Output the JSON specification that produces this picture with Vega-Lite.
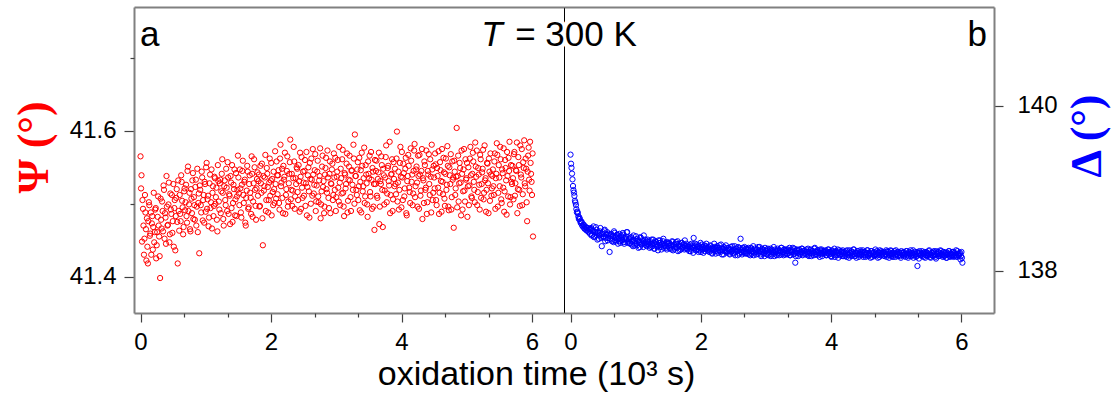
{
"$schema": "https://vega.github.io/schema/vega-lite/v6.json",
"autosize": {"type": "none"},
"padding": {"left": 134, "top": 7, "right": 978, "bottom": 400},
"background": "white",
"config": {
  "view": {"stroke": null},
  "font": "Liberation Sans",
  "axis": {"grid": false, "domainColor": "#808080", "domainWidth": 2, "tickColor": "#404040", "tickWidth": 1.2, "labelColor": "#000000", "labelFont": "Liberation Sans", "labelFontSize": 24, "labelOverlap": false, "labelFlush": false, "titleFontWeight": "normal", "titleColor": "#000000", "titleFont": "Liberation Sans"}
},
"datasets": {"obs": [
{"t":0,"p":41.565,"d":139.41},{"t":0.015,"p":41.539,"d":139.25},{"t":0.03,"p":41.505,"d":139.11},{"t":0.045,"p":41.470,"d":138.98},{"t":0.06,"p":41.452,"d":138.91},{"t":0.075,"p":41.488,"d":138.83},{"t":0.09,"p":41.422,"d":138.75},{"t":0.105,"p":41.441,"d":138.72},{"t":0.12,"p":41.476,"d":138.66},{"t":0.135,"p":41.498,"d":138.65},{"t":0.15,"p":41.459,"d":138.60},{"t":0.165,"p":41.430,"d":138.60},{"t":0.18,"p":41.483,"d":138.55},{"t":0.195,"p":41.468,"d":138.56},{"t":0.21,"p":41.447,"d":138.52},{"t":0.225,"p":41.492,"d":138.54},{"t":0.24,"p":41.425,"d":138.50},{"t":0.255,"p":41.461,"d":138.52},{"t":0.27,"p":41.510,"d":138.48},{"t":0.285,"p":41.455,"d":138.50},
{"t":0.3,"p":41.398,"d":138.45},{"t":0.315,"p":41.478,"d":138.52},{"t":0.33,"p":41.503,"d":138.44},{"t":0.345,"p":41.462,"d":138.49},{"t":0.36,"p":41.519,"d":138.41},{"t":0.375,"p":41.487,"d":138.47},{"t":0.39,"p":41.445,"d":138.53},{"t":0.405,"p":41.496,"d":138.43},{"t":0.42,"p":41.471,"d":138.46},{"t":0.435,"p":41.529,"d":138.39},{"t":0.45,"p":41.458,"d":138.48},{"t":0.465,"p":41.492,"d":138.44},{"t":0.48,"p":41.512,"d":138.30},{"t":0.495,"p":41.476,"d":138.47},{"t":0.51,"p":41.441,"d":138.42},{"t":0.525,"p":41.505,"d":138.50},{"t":0.54,"p":41.483,"d":138.40},{"t":0.555,"p":41.520,"d":138.44},{"t":0.57,"p":41.418,"d":138.37},{"t":0.585,"p":41.490,"d":138.45},
{"t":0.6,"p":41.512,"d":138.23},{"t":0.615,"p":41.476,"d":138.44},{"t":0.63,"p":41.530,"d":138.38},{"t":0.645,"p":41.495,"d":138.42},{"t":0.66,"p":41.468,"d":138.35},{"t":0.675,"p":41.521,"d":138.46},{"t":0.69,"p":41.502,"d":138.40},{"t":0.705,"p":41.483,"d":138.36},{"t":0.72,"p":41.545,"d":138.43},{"t":0.735,"p":41.490,"d":138.39},{"t":0.75,"p":41.515,"d":138.45},{"t":0.765,"p":41.462,"d":138.34},{"t":0.78,"p":41.507,"d":138.41},{"t":0.795,"p":41.532,"d":138.37},{"t":0.81,"p":41.479,"d":138.44},{"t":0.825,"p":41.498,"d":138.33},{"t":0.84,"p":41.523,"d":138.40},{"t":0.855,"p":41.470,"d":138.38},{"t":0.87,"p":41.548,"d":138.47},{"t":0.885,"p":41.501,"d":138.36},
{"t":0.9,"p":41.432,"d":138.39},{"t":0.915,"p":41.519,"d":138.33},{"t":0.93,"p":41.488,"d":138.41},{"t":0.945,"p":41.536,"d":138.36},{"t":0.96,"p":41.505,"d":138.30},{"t":0.975,"p":41.474,"d":138.38},{"t":0.99,"p":41.527,"d":138.34},{"t":1.005,"p":41.550,"d":138.42},{"t":1.02,"p":41.493,"d":138.31},{"t":1.035,"p":41.511,"d":138.37},{"t":1.05,"p":41.481,"d":138.35},{"t":1.065,"p":41.540,"d":138.29},{"t":1.08,"p":41.502,"d":138.40},{"t":1.095,"p":41.466,"d":138.33},{"t":1.11,"p":41.524,"d":138.36},{"t":1.125,"p":41.497,"d":138.43},{"t":1.14,"p":41.535,"d":138.32},{"t":1.155,"p":41.509,"d":138.35},{"t":1.17,"p":41.478,"d":138.30},{"t":1.185,"p":41.553,"d":138.38},
{"t":1.2,"p":41.503,"d":138.35},{"t":1.215,"p":41.528,"d":138.28},{"t":1.23,"p":41.487,"d":138.33},{"t":1.245,"p":41.541,"d":138.38},{"t":1.26,"p":41.515,"d":138.30},{"t":1.275,"p":41.470,"d":138.34},{"t":1.29,"p":41.532,"d":138.27},{"t":1.305,"p":41.498,"d":138.36},{"t":1.32,"p":41.522,"d":138.32},{"t":1.335,"p":41.557,"d":138.29},{"t":1.35,"p":41.486,"d":138.37},{"t":1.365,"p":41.511,"d":138.31},{"t":1.38,"p":41.538,"d":138.34},{"t":1.395,"p":41.494,"d":138.26},{"t":1.41,"p":41.475,"d":138.33},{"t":1.425,"p":41.526,"d":138.39},{"t":1.44,"p":41.547,"d":138.30},{"t":1.455,"p":41.506,"d":138.32},{"t":1.47,"p":41.483,"d":138.28},{"t":1.485,"p":41.519,"d":138.35},
{"t":1.5,"p":41.536,"d":138.30},{"t":1.515,"p":41.498,"d":138.34},{"t":1.53,"p":41.521,"d":138.27},{"t":1.545,"p":41.481,"d":138.31},{"t":1.56,"p":41.545,"d":138.36},{"t":1.575,"p":41.512,"d":138.25},{"t":1.59,"p":41.530,"d":138.32},{"t":1.605,"p":41.474,"d":138.29},{"t":1.62,"p":41.508,"d":138.35},{"t":1.635,"p":41.552,"d":138.28},{"t":1.65,"p":41.493,"d":138.24},{"t":1.665,"p":41.527,"d":138.33},{"t":1.68,"p":41.515,"d":138.30},{"t":1.695,"p":41.486,"d":138.26},{"t":1.71,"p":41.541,"d":138.34},{"t":1.725,"p":41.503,"d":138.29},{"t":1.74,"p":41.561,"d":138.31},{"t":1.755,"p":41.519,"d":138.37},{"t":1.77,"p":41.478,"d":138.27},{"t":1.785,"p":41.534,"d":138.30},
{"t":1.8,"p":41.511,"d":138.26},{"t":1.815,"p":41.540,"d":138.31},{"t":1.83,"p":41.497,"d":138.29},{"t":1.845,"p":41.528,"d":138.24},{"t":1.86,"p":41.555,"d":138.33},{"t":1.875,"p":41.443,"d":138.28},{"t":1.89,"p":41.518,"d":138.40},{"t":1.905,"p":41.536,"d":138.30},{"t":1.92,"p":41.490,"d":138.25},{"t":1.935,"p":41.549,"d":138.32},{"t":1.95,"p":41.523,"d":138.27},{"t":1.965,"p":41.505,"d":138.23},{"t":1.98,"p":41.562,"d":138.30},{"t":1.995,"p":41.532,"d":138.34},{"t":2.01,"p":41.484,"d":138.26},{"t":2.025,"p":41.516,"d":138.29},{"t":2.04,"p":41.544,"d":138.22},{"t":2.055,"p":41.501,"d":138.31},{"t":2.07,"p":41.527,"d":138.27},{"t":2.085,"p":41.558,"d":138.33},
{"t":2.1,"p":41.513,"d":138.25},{"t":2.115,"p":41.546,"d":138.29},{"t":2.13,"p":41.492,"d":138.23},{"t":2.145,"p":41.581,"d":138.31},{"t":2.16,"p":41.529,"d":138.27},{"t":2.175,"p":41.508,"d":138.21},{"t":2.19,"p":41.552,"d":138.28},{"t":2.205,"p":41.537,"d":138.33},{"t":2.22,"p":41.486,"d":138.24},{"t":2.235,"p":41.520,"d":138.26},{"t":2.25,"p":41.565,"d":138.30},{"t":2.265,"p":41.503,"d":138.22},{"t":2.28,"p":41.541,"d":138.28},{"t":2.295,"p":41.588,"d":138.25},{"t":2.31,"p":41.519,"d":138.32},{"t":2.325,"p":41.497,"d":138.20},{"t":2.34,"p":41.535,"d":138.27},{"t":2.355,"p":41.558,"d":138.29},{"t":2.37,"p":41.510,"d":138.24},{"t":2.385,"p":41.527,"d":138.31},
{"t":2.4,"p":41.548,"d":138.22},{"t":2.415,"p":41.505,"d":138.27},{"t":2.43,"p":41.531,"d":138.25},{"t":2.445,"p":41.570,"d":138.20},{"t":2.46,"p":41.493,"d":138.29},{"t":2.475,"p":41.522,"d":138.24},{"t":2.49,"p":41.544,"d":138.26},{"t":2.505,"p":41.511,"d":138.21},{"t":2.52,"p":41.560,"d":138.30},{"t":2.535,"p":41.528,"d":138.23},{"t":2.55,"p":41.484,"d":138.27},{"t":2.565,"p":41.539,"d":138.19},{"t":2.58,"p":41.517,"d":138.25},{"t":2.595,"p":41.556,"d":138.28},{"t":2.61,"p":41.500,"d":138.39},{"t":2.625,"p":41.533,"d":138.22},{"t":2.64,"p":41.575,"d":138.26},{"t":2.655,"p":41.514,"d":138.23},{"t":2.67,"p":41.546,"d":138.29},{"t":2.685,"p":41.490,"d":138.21},
{"t":2.7,"p":41.525,"d":138.26},{"t":2.715,"p":41.559,"d":138.21},{"t":2.73,"p":41.502,"d":138.28},{"t":2.745,"p":41.538,"d":138.24},{"t":2.76,"p":41.480,"d":138.19},{"t":2.775,"p":41.517,"d":138.27},{"t":2.79,"p":41.566,"d":138.23},{"t":2.805,"p":41.531,"d":138.30},{"t":2.82,"p":41.496,"d":138.22},{"t":2.835,"p":41.549,"d":138.25},{"t":2.85,"p":41.520,"d":138.20},{"t":2.865,"p":41.573,"d":138.26},{"t":2.88,"p":41.508,"d":138.29},{"t":2.895,"p":41.541,"d":138.22},{"t":2.91,"p":41.487,"d":138.24},{"t":2.925,"p":41.527,"d":138.18},{"t":2.94,"p":41.555,"d":138.27},{"t":2.955,"p":41.512,"d":138.25},{"t":2.97,"p":41.536,"d":138.21},{"t":2.985,"p":41.563,"d":138.28},
{"t":3,"p":41.509,"d":138.24},{"t":3.015,"p":41.544,"d":138.20},{"t":3.03,"p":41.522,"d":138.27},{"t":3.045,"p":41.578,"d":138.22},{"t":3.06,"p":41.498,"d":138.25},{"t":3.075,"p":41.535,"d":138.18},{"t":3.09,"p":41.561,"d":138.26},{"t":3.105,"p":41.515,"d":138.23},{"t":3.12,"p":41.483,"d":138.29},{"t":3.135,"p":41.540,"d":138.21},{"t":3.15,"p":41.527,"d":138.24},{"t":3.165,"p":41.569,"d":138.19},{"t":3.18,"p":41.504,"d":138.27},{"t":3.195,"p":41.551,"d":138.22},{"t":3.21,"p":41.532,"d":138.25},{"t":3.225,"p":41.490,"d":138.20},{"t":3.24,"p":41.546,"d":138.28},{"t":3.255,"p":41.519,"d":138.23},{"t":3.27,"p":41.562,"d":138.19},{"t":3.285,"p":41.595,"d":138.26},
{"t":3.3,"p":41.538,"d":138.22},{"t":3.315,"p":41.512,"d":138.26},{"t":3.33,"p":41.557,"d":138.21},{"t":3.345,"p":41.524,"d":138.24},{"t":3.36,"p":41.491,"d":138.28},{"t":3.375,"p":41.546,"d":138.19},{"t":3.39,"p":41.570,"d":138.23},{"t":3.405,"p":41.517,"d":138.25},{"t":3.42,"p":41.535,"d":138.20},{"t":3.435,"p":41.501,"d":138.27},{"t":3.45,"p":41.553,"d":138.10},{"t":3.465,"p":41.528,"d":138.22},{"t":3.48,"p":41.482,"d":138.24},{"t":3.495,"p":41.541,"d":138.18},{"t":3.51,"p":41.566,"d":138.26},{"t":3.525,"p":41.510,"d":138.21},{"t":3.54,"p":41.533,"d":138.23},{"t":3.555,"p":41.549,"d":138.27},{"t":3.57,"p":41.496,"d":138.20},{"t":3.585,"p":41.464,"d":138.24},
{"t":3.6,"p":41.527,"d":138.25},{"t":3.615,"p":41.559,"d":138.20},{"t":3.63,"p":41.508,"d":138.23},{"t":3.645,"p":41.543,"d":138.27},{"t":3.66,"p":41.472,"d":138.18},{"t":3.675,"p":41.531,"d":138.22},{"t":3.69,"p":41.565,"d":138.26},{"t":3.705,"p":41.519,"d":138.21},{"t":3.72,"p":41.548,"d":138.24},{"t":3.735,"p":41.499,"d":138.19},{"t":3.75,"p":41.536,"d":138.28},{"t":3.765,"p":41.580,"d":138.23},{"t":3.78,"p":41.514,"d":138.20},{"t":3.795,"p":41.552,"d":138.25},{"t":3.81,"p":41.525,"d":138.22},{"t":3.825,"p":41.487,"d":138.17},{"t":3.84,"p":41.540,"d":138.24},{"t":3.855,"p":41.561,"d":138.26},{"t":3.87,"p":41.506,"d":138.21},{"t":3.885,"p":41.534,"d":138.23},
{"t":3.9,"p":41.548,"d":138.21},{"t":3.915,"p":41.513,"d":138.25},{"t":3.93,"p":41.599,"d":138.19},{"t":3.945,"p":41.529,"d":138.23},{"t":3.96,"p":41.492,"d":138.26},{"t":3.975,"p":41.556,"d":138.20},{"t":3.99,"p":41.537,"d":138.22},{"t":4.005,"p":41.571,"d":138.17},{"t":4.02,"p":41.505,"d":138.24},{"t":4.035,"p":41.542,"d":138.21},{"t":4.05,"p":41.521,"d":138.27},{"t":4.065,"p":41.563,"d":138.19},{"t":4.08,"p":41.484,"d":138.23},{"t":4.095,"p":41.538,"d":138.22},{"t":4.11,"p":41.552,"d":138.16},{"t":4.125,"p":41.516,"d":138.25},{"t":4.14,"p":41.576,"d":138.20},{"t":4.155,"p":41.530,"d":138.24},{"t":4.17,"p":41.498,"d":138.18},{"t":4.185,"p":41.545,"d":138.22},
{"t":4.2,"p":41.582,"d":138.23},{"t":4.215,"p":41.524,"d":138.18},{"t":4.23,"p":41.551,"d":138.21},{"t":4.245,"p":41.496,"d":138.25},{"t":4.26,"p":41.538,"d":138.20},{"t":4.275,"p":41.567,"d":138.16},{"t":4.29,"p":41.511,"d":138.22},{"t":4.305,"p":41.545,"d":138.24},{"t":4.32,"p":41.479,"d":138.19},{"t":4.335,"p":41.532,"d":138.21},{"t":4.35,"p":41.558,"d":138.26},{"t":4.365,"p":41.519,"d":138.18},{"t":4.38,"p":41.573,"d":138.22},{"t":4.395,"p":41.502,"d":138.20},{"t":4.41,"p":41.540,"d":138.24},{"t":4.425,"p":41.527,"d":138.17},{"t":4.44,"p":41.561,"d":138.21},{"t":4.455,"p":41.488,"d":138.23},{"t":4.47,"p":41.547,"d":138.19},{"t":4.485,"p":41.515,"d":138.25},
{"t":4.5,"p":41.536,"d":138.20},{"t":4.515,"p":41.569,"d":138.23},{"t":4.53,"p":41.505,"d":138.17},{"t":4.545,"p":41.549,"d":138.22},{"t":4.56,"p":41.522,"d":138.25},{"t":4.575,"p":41.486,"d":138.19},{"t":4.59,"p":41.557,"d":138.21},{"t":4.605,"p":41.531,"d":138.16},{"t":4.62,"p":41.575,"d":138.24},{"t":4.635,"p":41.513,"d":138.20},{"t":4.65,"p":41.543,"d":138.22},{"t":4.665,"p":41.497,"d":138.18},{"t":4.68,"p":41.562,"d":138.26},{"t":4.695,"p":41.526,"d":138.21},{"t":4.71,"p":41.552,"d":138.19},{"t":4.725,"p":41.491,"d":138.23},{"t":4.74,"p":41.539,"d":138.17},{"t":4.755,"p":41.568,"d":138.22},{"t":4.77,"p":41.509,"d":138.24},{"t":4.785,"p":41.533,"d":138.20},
{"t":4.8,"p":41.467,"d":138.22},{"t":4.815,"p":41.544,"d":138.18},{"t":4.83,"p":41.521,"d":138.21},{"t":4.845,"p":41.604,"d":138.25},{"t":4.86,"p":41.538,"d":138.19},{"t":4.875,"p":41.503,"d":138.23},{"t":4.89,"p":41.556,"d":138.16},{"t":4.905,"p":41.529,"d":138.21},{"t":4.92,"p":41.573,"d":138.24},{"t":4.935,"p":41.492,"d":138.20},{"t":4.95,"p":41.547,"d":138.17},{"t":4.965,"p":41.518,"d":138.22},{"t":4.98,"p":41.561,"d":138.19},{"t":4.995,"p":41.535,"d":138.25},{"t":5.01,"p":41.482,"d":138.21},{"t":5.025,"p":41.550,"d":138.18},{"t":5.04,"p":41.525,"d":138.23},{"t":5.055,"p":41.578,"d":138.20},{"t":5.07,"p":41.510,"d":138.16},{"t":5.085,"p":41.541,"d":138.22},
{"t":5.1,"p":41.558,"d":138.19},{"t":5.115,"p":41.519,"d":138.23},{"t":5.13,"p":41.584,"d":138.20},{"t":5.145,"p":41.537,"d":138.17},{"t":5.16,"p":41.498,"d":138.24},{"t":5.175,"p":41.549,"d":138.21},{"t":5.19,"p":41.526,"d":138.18},{"t":5.205,"p":41.567,"d":138.22},{"t":5.22,"p":41.508,"d":138.25},{"t":5.235,"p":41.543,"d":138.19},{"t":5.25,"p":41.574,"d":138.21},{"t":5.265,"p":41.515,"d":138.16},{"t":5.28,"p":41.532,"d":138.23},{"t":5.295,"p":41.489,"d":138.20},{"t":5.31,"p":41.556,"d":138.18},{"t":5.325,"p":41.528,"d":138.06},{"t":5.34,"p":41.562,"d":138.22},{"t":5.355,"p":41.504,"d":138.24},{"t":5.37,"p":41.540,"d":138.19},{"t":5.385,"p":41.521,"d":138.21},
{"t":5.4,"p":41.547,"d":138.18},{"t":5.415,"p":41.512,"d":138.22},{"t":5.43,"p":41.569,"d":138.20},{"t":5.445,"p":41.535,"d":138.16},{"t":5.46,"p":41.583,"d":138.23},{"t":5.475,"p":41.496,"d":138.19},{"t":5.49,"p":41.553,"d":138.21},{"t":5.505,"p":41.524,"d":138.25},{"t":5.52,"p":41.561,"d":138.17},{"t":5.535,"p":41.501,"d":138.20},{"t":5.55,"p":41.542,"d":138.22},{"t":5.565,"p":41.576,"d":138.18},{"t":5.58,"p":41.517,"d":138.24},{"t":5.595,"p":41.549,"d":138.19},{"t":5.61,"p":41.485,"d":138.15},{"t":5.625,"p":41.538,"d":138.21},{"t":5.64,"p":41.563,"d":138.23},{"t":5.655,"p":41.585,"d":138.18},{"t":5.67,"p":41.509,"d":138.20},{"t":5.685,"p":41.530,"d":138.24},
{"t":5.7,"p":41.552,"d":138.21},{"t":5.715,"p":41.506,"d":138.17},{"t":5.73,"p":41.571,"d":138.23},{"t":5.745,"p":41.528,"d":138.19},{"t":5.76,"p":41.545,"d":138.22},{"t":5.775,"p":41.487,"d":138.16},{"t":5.79,"p":41.564,"d":138.20},{"t":5.805,"p":41.519,"d":138.24},{"t":5.82,"p":41.580,"d":138.18},{"t":5.835,"p":41.536,"d":138.21},{"t":5.85,"p":41.498,"d":138.19},{"t":5.865,"p":41.557,"d":138.23},{"t":5.88,"p":41.587,"d":138.17},{"t":5.895,"p":41.524,"d":138.22},{"t":5.91,"p":41.548,"d":138.20},{"t":5.925,"p":41.476,"d":138.18},{"t":5.94,"p":41.566,"d":138.24},{"t":5.955,"p":41.533,"d":138.19},{"t":5.97,"p":41.585,"d":138.21},{"t":5.985,"p":41.541,"d":138.14},{"t":6,"p":41.512,"d":138.23},{"t":6.015,"p":41.455,"d":138.10},
{"t":0.008,"p":41.521,"d":139.30},{"t":0.023,"p":41.448,"d":139.18},{"t":0.038,"p":41.493,"d":139.03},{"t":0.053,"p":41.430,"d":138.95},{"t":0.068,"p":41.512,"d":138.85},{"t":0.083,"p":41.465,"d":138.80},{"t":0.098,"p":41.480,"d":138.71},{"t":0.113,"p":41.418,"d":138.70},{"t":0.128,"p":41.502,"d":138.63},{"t":0.143,"p":41.456,"d":138.63},{"t":0.158,"p":41.488,"d":138.58},{"t":0.173,"p":41.473,"d":138.59},{"t":0.188,"p":41.437,"d":138.54},{"t":0.203,"p":41.515,"d":138.56},{"t":0.218,"p":41.461,"d":138.51},{"t":0.233,"p":41.494,"d":138.53},{"t":0.248,"p":41.443,"d":138.49},{"t":0.263,"p":41.482,"d":138.52},{"t":0.278,"p":41.470,"d":138.47},{"t":0.293,"p":41.428,"d":138.51},
{"t":0.308,"p":41.507,"d":138.51},{"t":0.323,"p":41.466,"d":138.43},{"t":0.338,"p":41.490,"d":138.48},{"t":0.353,"p":41.525,"d":138.54},{"t":0.368,"p":41.452,"d":138.42},{"t":0.383,"p":41.481,"d":138.46},{"t":0.398,"p":41.538,"d":138.50},{"t":0.413,"p":41.470,"d":138.38},{"t":0.428,"p":41.499,"d":138.47},{"t":0.443,"p":41.447,"d":138.43},{"t":0.458,"p":41.514,"d":138.52},{"t":0.473,"p":41.486,"d":138.40},{"t":0.488,"p":41.460,"d":138.45},{"t":0.503,"p":41.527,"d":138.41},{"t":0.518,"p":41.494,"d":138.49},{"t":0.533,"p":41.436,"d":138.36},{"t":0.548,"p":41.508,"d":138.44},{"t":0.563,"p":41.475,"d":138.47},{"t":0.578,"p":41.532,"d":138.40},{"t":0.593,"p":41.463,"d":138.43},
{"t":0.608,"p":41.486,"d":138.39},{"t":0.623,"p":41.539,"d":138.45},{"t":0.638,"p":41.504,"d":138.36},{"t":0.653,"p":41.458,"d":138.42},{"t":0.668,"p":41.517,"d":138.48},{"t":0.683,"p":41.491,"d":138.37},{"t":0.698,"p":41.526,"d":138.41},{"t":0.713,"p":41.474,"d":138.44},{"t":0.728,"p":41.551,"d":138.33},{"t":0.743,"p":41.499,"d":138.40},{"t":0.758,"p":41.465,"d":138.36},{"t":0.773,"p":41.520,"d":138.43},{"t":0.788,"p":41.487,"d":138.38},{"t":0.803,"p":41.542,"d":138.46},{"t":0.818,"p":41.509,"d":138.35},{"t":0.833,"p":41.478,"d":138.39},{"t":0.848,"p":41.533,"d":138.42},{"t":0.863,"p":41.496,"d":138.47},{"t":0.878,"p":41.461,"d":138.34},{"t":0.893,"p":41.514,"d":138.38},
{"t":0.908,"p":41.525,"d":138.34},{"t":0.923,"p":41.498,"d":138.40},{"t":0.938,"p":41.544,"d":138.32},{"t":0.953,"p":41.477,"d":138.37},{"t":0.968,"p":41.512,"d":138.43},{"t":0.983,"p":41.530,"d":138.31},{"t":0.998,"p":41.489,"d":138.36},{"t":1.013,"p":41.556,"d":138.33},{"t":1.028,"p":41.506,"d":138.39},{"t":1.043,"p":41.469,"d":138.28},{"t":1.058,"p":41.528,"d":138.35},{"t":1.073,"p":41.494,"d":138.41},{"t":1.088,"p":41.547,"d":138.32},{"t":1.103,"p":41.515,"d":138.37},{"t":1.118,"p":41.483,"d":138.29},{"t":1.133,"p":41.537,"d":138.34},{"t":1.148,"p":41.500,"d":138.38},{"t":1.163,"p":41.522,"d":138.31},{"t":1.178,"p":41.462,"d":138.36},{"t":1.193,"p":41.531,"d":138.33},
{"t":1.208,"p":41.492,"d":138.31},{"t":1.223,"p":41.533,"d":138.36},{"t":1.238,"p":41.517,"d":138.29},{"t":1.253,"p":41.561,"d":138.33},{"t":1.268,"p":41.479,"d":138.38},{"t":1.283,"p":41.524,"d":138.27},{"t":1.298,"p":41.505,"d":138.32},{"t":1.313,"p":41.548,"d":138.35},{"t":1.328,"p":41.490,"d":138.30},{"t":1.343,"p":41.536,"d":138.25},{"t":1.358,"p":41.513,"d":138.34},{"t":1.373,"p":41.472,"d":138.37},{"t":1.388,"p":41.529,"d":138.29},{"t":1.403,"p":41.553,"d":138.32},{"t":1.418,"p":41.501,"d":138.36},{"t":1.433,"p":41.520,"d":138.28},{"t":1.448,"p":41.484,"d":138.31},{"t":1.463,"p":41.542,"d":138.34},{"t":1.478,"p":41.510,"d":138.26},{"t":1.493,"p":41.566,"d":138.33},
{"t":1.508,"p":41.514,"d":138.33},{"t":1.523,"p":41.547,"d":138.28},{"t":1.538,"p":41.488,"d":138.31},{"t":1.553,"p":41.526,"d":138.26},{"t":1.568,"p":41.559,"d":138.35},{"t":1.583,"p":41.501,"d":138.30},{"t":1.598,"p":41.533,"d":138.27},{"t":1.613,"p":41.470,"d":138.33},{"t":1.628,"p":41.518,"d":138.29},{"t":1.643,"p":41.544,"d":138.36},{"t":1.658,"p":41.495,"d":138.31},{"t":1.673,"p":41.539,"d":138.25},{"t":1.688,"p":41.508,"d":138.30},{"t":1.703,"p":41.565,"d":138.34},{"t":1.718,"p":41.482,"d":138.28},{"t":1.733,"p":41.528,"d":138.32},{"t":1.748,"p":41.550,"d":138.26},{"t":1.763,"p":41.497,"d":138.30},{"t":1.778,"p":41.521,"d":138.33},{"t":1.793,"p":41.543,"d":138.27},
{"t":1.808,"p":41.531,"d":138.29},{"t":1.823,"p":41.496,"d":138.24},{"t":1.838,"p":41.552,"d":138.32},{"t":1.853,"p":41.515,"d":138.27},{"t":1.868,"p":41.480,"d":138.30},{"t":1.883,"p":41.538,"d":138.22},{"t":1.898,"p":41.524,"d":138.28},{"t":1.913,"p":41.567,"d":138.33},{"t":1.928,"p":41.505,"d":138.26},{"t":1.943,"p":41.541,"d":138.29},{"t":1.958,"p":41.488,"d":138.31},{"t":1.973,"p":41.529,"d":138.25},{"t":1.988,"p":41.511,"d":138.28},{"t":2.003,"p":41.556,"d":138.23},{"t":2.018,"p":41.534,"d":138.32},{"t":2.033,"p":41.498,"d":138.26},{"t":2.048,"p":41.520,"d":138.29},{"t":2.063,"p":41.572,"d":138.24},{"t":2.078,"p":41.507,"d":138.30},{"t":2.093,"p":41.539,"d":138.27},
{"t":2.108,"p":41.539,"d":138.28},{"t":2.123,"p":41.501,"d":138.24},{"t":2.138,"p":41.562,"d":138.26},{"t":2.153,"p":41.524,"d":138.30},{"t":2.168,"p":41.548,"d":138.22},{"t":2.183,"p":41.487,"d":138.27},{"t":2.198,"p":41.533,"d":138.25},{"t":2.213,"p":41.570,"d":138.29},{"t":2.228,"p":41.512,"d":138.21},{"t":2.243,"p":41.545,"d":138.28},{"t":2.258,"p":41.496,"d":138.24},{"t":2.273,"p":41.528,"d":138.26},{"t":2.288,"p":41.557,"d":138.31},{"t":2.303,"p":41.506,"d":138.23},{"t":2.318,"p":41.541,"d":138.27},{"t":2.333,"p":41.518,"d":138.25},{"t":2.348,"p":41.578,"d":138.20},{"t":2.363,"p":41.493,"d":138.28},{"t":2.378,"p":41.535,"d":138.26},{"t":2.393,"p":41.550,"d":138.23},
{"t":2.408,"p":41.516,"d":138.24},{"t":2.423,"p":41.553,"d":138.28},{"t":2.438,"p":41.489,"d":138.21},{"t":2.453,"p":41.537,"d":138.26},{"t":2.468,"p":41.564,"d":138.23},{"t":2.483,"p":41.508,"d":138.30},{"t":2.498,"p":41.529,"d":138.22},{"t":2.513,"p":41.545,"d":138.25},{"t":2.528,"p":41.497,"d":138.19},{"t":2.543,"p":41.571,"d":138.27},{"t":2.558,"p":41.523,"d":138.24},{"t":2.573,"p":41.550,"d":138.29},{"t":2.588,"p":41.481,"d":138.21},{"t":2.603,"p":41.534,"d":138.26},{"t":2.618,"p":41.562,"d":138.23},{"t":2.633,"p":41.511,"d":138.20},{"t":2.648,"p":41.540,"d":138.28},{"t":2.663,"p":41.526,"d":138.24},{"t":2.678,"p":41.568,"d":138.22},{"t":2.693,"p":41.503,"d":138.27},
{"t":2.708,"p":41.544,"d":138.22},{"t":2.723,"p":41.510,"d":138.26},{"t":2.738,"p":41.532,"d":138.20},{"t":2.753,"p":41.576,"d":138.25},{"t":2.768,"p":41.499,"d":138.28},{"t":2.783,"p":41.551,"d":138.21},{"t":2.798,"p":41.523,"d":138.24},{"t":2.813,"p":41.487,"d":138.19},{"t":2.828,"p":41.540,"d":138.27},{"t":2.843,"p":41.563,"d":138.23},{"t":2.858,"p":41.515,"d":138.26},{"t":2.873,"p":41.536,"d":138.21},{"t":2.888,"p":41.494,"d":138.24},{"t":2.903,"p":41.558,"d":138.29},{"t":2.918,"p":41.528,"d":138.20},{"t":2.933,"p":41.547,"d":138.23},{"t":2.948,"p":41.505,"d":138.26},{"t":2.963,"p":41.569,"d":138.22},{"t":2.978,"p":41.519,"d":138.18},{"t":2.993,"p":41.490,"d":138.25},
{"t":3.008,"p":41.537,"d":138.21},{"t":3.023,"p":41.560,"d":138.25},{"t":3.038,"p":41.503,"d":138.19},{"t":3.053,"p":41.529,"d":138.23},{"t":3.068,"p":41.548,"d":138.27},{"t":3.083,"p":41.514,"d":138.20},{"t":3.098,"p":41.574,"d":138.24},{"t":3.113,"p":41.496,"d":138.22},{"t":3.128,"p":41.542,"d":138.18},{"t":3.143,"p":41.521,"d":138.26},{"t":3.158,"p":41.555,"d":138.23},{"t":3.173,"p":41.488,"d":138.21},{"t":3.188,"p":41.533,"d":138.25},{"t":3.203,"p":41.566,"d":138.19},{"t":3.218,"p":41.509,"d":138.24},{"t":3.233,"p":41.545,"d":138.28},{"t":3.248,"p":41.526,"d":138.21},{"t":3.263,"p":41.581,"d":138.23},{"t":3.278,"p":41.500,"d":138.26},{"t":3.293,"p":41.538,"d":138.20},
{"t":3.308,"p":41.519,"d":138.24},{"t":3.323,"p":41.547,"d":138.20},{"t":3.338,"p":41.505,"d":138.26},{"t":3.353,"p":41.563,"d":138.22},{"t":3.368,"p":41.530,"d":138.19},{"t":3.383,"p":41.488,"d":138.25},{"t":3.398,"p":41.552,"d":138.23},{"t":3.413,"p":41.524,"d":138.28},{"t":3.428,"p":41.577,"d":138.21},{"t":3.443,"p":41.510,"d":138.24},{"t":3.458,"p":41.540,"d":138.18},{"t":3.473,"p":41.499,"d":138.26},{"t":3.488,"p":41.558,"d":138.22},{"t":3.503,"p":41.535,"d":138.25},{"t":3.518,"p":41.516,"d":138.20},{"t":3.533,"p":41.571,"d":138.23},{"t":3.548,"p":41.493,"d":138.27},{"t":3.563,"p":41.544,"d":138.19},{"t":3.578,"p":41.527,"d":138.24},{"t":3.593,"p":41.560,"d":138.21},
{"t":3.608,"p":41.545,"d":138.22},{"t":3.623,"p":41.511,"d":138.26},{"t":3.638,"p":41.534,"d":138.19},{"t":3.653,"p":41.570,"d":138.23},{"t":3.668,"p":41.496,"d":138.21},{"t":3.683,"p":41.527,"d":138.25},{"t":3.698,"p":41.553,"d":138.18},{"t":3.713,"p":41.468,"d":138.24},{"t":3.728,"p":41.539,"d":138.22},{"t":3.743,"p":41.518,"d":138.27},{"t":3.758,"p":41.564,"d":138.20},{"t":3.773,"p":41.502,"d":138.23},{"t":3.788,"p":41.549,"d":138.25},{"t":3.803,"p":41.531,"d":138.19},{"t":3.818,"p":41.585,"d":138.22},{"t":3.833,"p":41.512,"d":138.26},{"t":3.848,"p":41.541,"d":138.21},{"t":3.863,"p":41.490,"d":138.18},{"t":3.878,"p":41.557,"d":138.24},{"t":3.893,"p":41.524,"d":138.22},
{"t":3.908,"p":41.527,"d":138.24},{"t":3.923,"p":41.562,"d":138.19},{"t":3.938,"p":41.503,"d":138.22},{"t":3.953,"p":41.544,"d":138.26},{"t":3.968,"p":41.519,"d":138.20},{"t":3.983,"p":41.578,"d":138.23},{"t":3.998,"p":41.495,"d":138.18},{"t":4.013,"p":41.536,"d":138.25},{"t":4.028,"p":41.555,"d":138.21},{"t":4.043,"p":41.510,"d":138.23},{"t":4.058,"p":41.548,"d":138.17},{"t":4.073,"p":41.487,"d":138.24},{"t":4.088,"p":41.531,"d":138.20},{"t":4.103,"p":41.567,"d":138.26},{"t":4.118,"p":41.522,"d":138.22},{"t":4.133,"p":41.501,"d":138.19},{"t":4.148,"p":41.559,"d":138.23},{"t":4.163,"p":41.540,"d":138.21},{"t":4.178,"p":41.514,"d":138.25},{"t":4.193,"p":41.573,"d":138.18},
{"t":4.208,"p":41.509,"d":138.20},{"t":4.223,"p":41.547,"d":138.24},{"t":4.238,"p":41.529,"d":138.17},{"t":4.253,"p":41.566,"d":138.22},{"t":4.268,"p":41.493,"d":138.19},{"t":4.283,"p":41.540,"d":138.25},{"t":4.298,"p":41.518,"d":138.21},{"t":4.313,"p":41.575,"d":138.18},{"t":4.328,"p":41.535,"d":138.23},{"t":4.343,"p":41.501,"d":138.26},{"t":4.358,"p":41.553,"d":138.20},{"t":4.373,"p":41.522,"d":138.22},{"t":4.388,"p":41.486,"d":138.16},{"t":4.403,"p":41.545,"d":138.24},{"t":4.418,"p":41.568,"d":138.21},{"t":4.433,"p":41.512,"d":138.19},{"t":4.448,"p":41.537,"d":138.25},{"t":4.463,"p":41.581,"d":138.20},{"t":4.478,"p":41.505,"d":138.22},{"t":4.493,"p":41.552,"d":138.17},
{"t":4.508,"p":41.521,"d":138.23},{"t":4.523,"p":41.554,"d":138.19},{"t":4.538,"p":41.498,"d":138.21},{"t":4.553,"p":41.538,"d":138.25},{"t":4.568,"p":41.572,"d":138.18},{"t":4.583,"p":41.515,"d":138.22},{"t":4.598,"p":41.546,"d":138.20},{"t":4.613,"p":41.489,"d":138.24},{"t":4.628,"p":41.530,"d":138.17},{"t":4.643,"p":41.563,"d":138.21},{"t":4.658,"p":41.507,"d":138.23},{"t":4.673,"p":41.541,"d":138.19},{"t":4.688,"p":41.519,"d":138.20},{"t":4.703,"p":41.579,"d":138.24},{"t":4.718,"p":41.496,"d":138.16},{"t":4.733,"p":41.550,"d":138.22},{"t":4.748,"p":41.527,"d":138.25},{"t":4.763,"p":41.492,"d":138.19},{"t":4.778,"p":41.558,"d":138.21},{"t":4.793,"p":41.536,"d":138.23},
{"t":4.808,"p":41.559,"d":138.19},{"t":4.823,"p":41.512,"d":138.23},{"t":4.838,"p":41.537,"d":138.20},{"t":4.853,"p":41.495,"d":138.17},{"t":4.868,"p":41.566,"d":138.24},{"t":4.883,"p":41.528,"d":138.21},{"t":4.898,"p":41.549,"d":138.19},{"t":4.913,"p":41.484,"d":138.25},{"t":4.928,"p":41.541,"d":138.18},{"t":4.943,"p":41.517,"d":138.22},{"t":4.958,"p":41.575,"d":138.20},{"t":4.973,"p":41.503,"d":138.24},{"t":4.988,"p":41.533,"d":138.17},{"t":5.003,"p":41.556,"d":138.21},{"t":5.018,"p":41.524,"d":138.23},{"t":5.033,"p":41.498,"d":138.19},{"t":5.048,"p":41.562,"d":138.22},{"t":5.063,"p":41.539,"d":138.18},{"t":5.078,"p":41.508,"d":138.24},{"t":5.093,"p":41.570,"d":138.20},
{"t":5.108,"p":41.530,"d":138.22},{"t":5.123,"p":41.502,"d":138.18},{"t":5.138,"p":41.551,"d":138.21},{"t":5.153,"p":41.573,"d":138.24},{"t":5.168,"p":41.516,"d":138.19},{"t":5.183,"p":41.540,"d":138.16},{"t":5.198,"p":41.492,"d":138.23},{"t":5.213,"p":41.561,"d":138.20},{"t":5.228,"p":41.527,"d":138.18},{"t":5.243,"p":41.548,"d":138.22},{"t":5.258,"p":41.506,"d":138.25},{"t":5.273,"p":41.580,"d":138.19},{"t":5.288,"p":41.535,"d":138.21},{"t":5.303,"p":41.519,"d":138.17},{"t":5.318,"p":41.555,"d":138.23},{"t":5.333,"p":41.487,"d":138.20},{"t":5.348,"p":41.544,"d":138.15},{"t":5.363,"p":41.569,"d":138.22},{"t":5.378,"p":41.511,"d":138.19},{"t":5.393,"p":41.538,"d":138.24},
{"t":5.408,"p":41.524,"d":138.21},{"t":5.423,"p":41.558,"d":138.17},{"t":5.438,"p":41.493,"d":138.23},{"t":5.453,"p":41.541,"d":138.19},{"t":5.468,"p":41.567,"d":138.22},{"t":5.483,"p":41.515,"d":138.18},{"t":5.498,"p":41.536,"d":138.24},{"t":5.513,"p":41.578,"d":138.20},{"t":5.528,"p":41.506,"d":138.16},{"t":5.543,"p":41.547,"d":138.22},{"t":5.558,"p":41.522,"d":138.19},{"t":5.573,"p":41.489,"d":138.23},{"t":5.588,"p":41.560,"d":138.21},{"t":5.603,"p":41.532,"d":138.17},{"t":5.618,"p":41.571,"d":138.24},{"t":5.633,"p":41.510,"d":138.20},{"t":5.648,"p":41.545,"d":138.18},{"t":5.663,"p":41.499,"d":138.22},{"t":5.678,"p":41.553,"d":138.25},{"t":5.693,"p":41.527,"d":138.19},
{"t":5.708,"p":41.535,"d":138.19},{"t":5.723,"p":41.568,"d":138.23},{"t":5.738,"p":41.511,"d":138.18},{"t":5.753,"p":41.546,"d":138.21},{"t":5.768,"p":41.584,"d":138.16},{"t":5.783,"p":41.520,"d":138.22},{"t":5.798,"p":41.553,"d":138.20},{"t":5.813,"p":41.497,"d":138.24},{"t":5.828,"p":41.540,"d":138.17},{"t":5.843,"p":41.575,"d":138.21},{"t":5.858,"p":41.513,"d":138.19},{"t":5.873,"p":41.549,"d":138.23},{"t":5.888,"p":41.528,"d":138.18},{"t":5.903,"p":41.562,"d":138.20},{"t":5.918,"p":41.502,"d":138.25},{"t":5.933,"p":41.544,"d":138.17},{"t":5.948,"p":41.577,"d":138.21},{"t":5.963,"p":41.518,"d":138.19},{"t":5.978,"p":41.556,"d":138.22},{"t":5.993,"p":41.530,"d":138.18},{"t":6.008,"p":41.569,"d":138.16}
]},
"bounds": "flush",
"spacing": 0,
"hconcat": [
{
  "width": 430, "height": 306,
  "layer": [
    {"data": {"name": "obs"},
     "mark": {"type": "point", "shape": "circle", "filled": false, "color": "#ff0000", "size": 28, "strokeWidth": 1, "opacity": 1},
     "encoding": {
       "x": {"field": "t", "type": "quantitative", "scale": {"domain": [-0.1, 6.49], "nice": false, "zero": false},
         "axis": {"orient": "bottom", "values": [0, 2, 4, 6], "format": "d", "tickSize": 9, "labelPadding": 8, "title": "oxidation time (10³ s)", "titleFontSize": 34, "titleX": 402, "titleY": 71, "titleBaseline": "alphabetic", "titleAlign": "center"}},
       "y": {"field": "p", "type": "quantitative", "scale": {"domain": [41.35, 41.77], "nice": false, "zero": false},
         "axis": {"orient": "left", "values": [41.4, 41.6], "format": ".1f", "tickSize": 10, "labelPadding": 8, "title": "Ψ (°)", "titleFont": "Liberation Serif", "titleFontWeight": "bold", "titleFontSize": 44, "titleColor": "#ff0000", "titleAngle": 270, "titleX": -100, "titleY": 140, "titleBaseline": "middle", "titleAlign": "center"}}
     }},
    {"data": {"values": [{}]},
     "mark": {"type": "text", "text": "a", "align": "left", "baseline": "alphabetic", "dx": 6, "dy": 39, "fontSize": 35, "font": "Liberation Sans", "color": "#000000"},
     "encoding": {
       "x": {"datum": -0.1, "type": "quantitative", "axis": {"orient": "top", "ticks": false, "labels": false, "title": null}},
       "y": {"datum": 41.77, "type": "quantitative", "axis": {"orient": "right", "ticks": false, "labels": false, "title": null, "domainColor": "#000000", "domainWidth": 1}}
     }},
    {"data": {"values": [{}]},
     "mark": {"type": "text", "text": "= 300 K", "align": "center", "baseline": "alphabetic", "dx": 12, "dy": 39, "fontSize": 35, "font": "Liberation Sans", "fill": "#ffffff", "stroke": "#ffffff", "strokeWidth": 8},
     "encoding": {
       "x": {"datum": 6.49, "type": "quantitative", "axis": {"orient": "bottom", "values": [0.6667, 1.3333, 2.6667, 3.3333, 4.6667, 5.3333], "domain": false, "labels": false, "tickSize": 4, "title": null}},
       "y": {"datum": 41.77, "type": "quantitative", "axis": {"orient": "left", "values": [41.5, 41.7], "domain": false, "labels": false, "tickSize": 4, "title": null}}
     }},
    {"data": {"values": [{}]},
     "mark": {"type": "text", "text": "= 300 K", "align": "center", "baseline": "alphabetic", "dx": 12, "dy": 39, "fontSize": 35, "font": "Liberation Sans", "color": "#000000"},
     "encoding": {
       "x": {"datum": 6.49, "type": "quantitative", "axis": null},
       "y": {"datum": 41.77, "type": "quantitative", "axis": null}
     }},
    {"data": {"values": [{}]},
     "mark": {"type": "text", "text": "T", "align": "center", "baseline": "alphabetic", "dx": -72, "dy": 39, "fontSize": 35, "font": "Liberation Sans", "fontStyle": "italic", "color": "#000000"},
     "encoding": {
       "x": {"datum": 6.49, "type": "quantitative", "axis": null},
       "y": {"datum": 41.77, "type": "quantitative", "axis": null}
     }}
  ],
  "resolve": {"axis": {"x": "independent", "y": "independent"}}
},
{
  "width": 430, "height": 306,
  "layer": [
    {"data": {"name": "obs"},
     "mark": {"type": "point", "shape": "circle", "filled": false, "color": "#0000ff", "size": 28, "strokeWidth": 1, "opacity": 1},
     "encoding": {
       "x": {"field": "t", "type": "quantitative", "scale": {"domain": [-0.1, 6.5], "nice": false, "zero": false},
         "axis": {"orient": "bottom", "values": [0, 2, 4, 6], "format": "d", "tickSize": 9, "labelPadding": 8, "title": null}},
       "y": {"field": "d", "type": "quantitative", "scale": {"domain": [137.49, 141.2], "nice": false, "zero": false},
         "axis": {"orient": "right", "values": [138, 140], "format": "d", "tickSize": 9, "labelPadding": 14, "title": "Δ (°)", "titleFont": "Liberation Serif", "titleFontWeight": "bold", "titleFontSize": 44, "titleColor": "#0000ff", "titleAngle": 270, "titleX": 93, "titleY": 128.5, "titleBaseline": "middle", "titleAlign": "center"}}
     }},
    {"data": {"values": [{}]},
     "mark": {"type": "text", "text": "b", "align": "right", "baseline": "alphabetic", "dx": -7, "dy": 39, "fontSize": 35, "font": "Liberation Sans", "color": "#000000"},
     "encoding": {
       "x": {"datum": 6.5, "type": "quantitative", "axis": {"orient": "top", "ticks": false, "labels": false, "title": null}},
       "y": {"datum": 141.2, "type": "quantitative", "axis": null}
     }},
    {"data": {"values": [{}]},
     "mark": {"type": "text", "text": "", "fontSize": 1},
     "encoding": {
       "x": {"datum": 6.5, "type": "quantitative", "axis": {"orient": "bottom", "values": [0.6667, 1.3333, 2.6667, 3.3333, 4.6667, 5.3333], "domain": false, "labels": false, "tickSize": 4, "title": null}},
       "y": {"datum": 141.2, "type": "quantitative", "axis": null}
     }}
  ],
  "resolve": {"axis": {"x": "independent", "y": "independent"}}
}
]
}
